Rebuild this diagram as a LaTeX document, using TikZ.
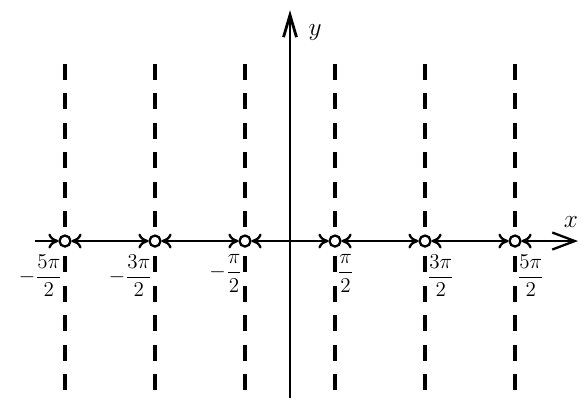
\documentclass[tikz,border=0pt]{standalone}
\usepackage{amsmath}
\usetikzlibrary{arrows.meta}

\begin{document}
\begin{tikzpicture}[
    x=0.9cm, y=0.9cm,
    >={To[length=0.2cm,width=0.3cm]},
    axis/.style={line width=1.6pt},
    seg/.style={line width=1.3pt, <->},
    asym/.style={line width=2pt, dash pattern=on 0.32cm off 0.27cm},
    hole/.style={circle, draw, fill=white, line width=1.3pt, minimum size=0.22cm, inner sep=0pt},
    lbl/.style={font=\large, inner sep=0pt},
  ]
    \useasboundingbox (-6.444,-3.556) rectangle (6.533,5.356);

    % ===== vertical asymptotes x = k pi/2 =====
    \foreach \k in {-5,-3,...,5}{
      \draw[asym] (\k, 0.311) -- (\k, 3.956);
      \draw[asym] (\k, -0.333) -- (\k, -3.311);
    }

    % ===== y axis =====
    \coordinate (ybot) at (0,-3.49);
    \coordinate (ytop) at (0,5.13);
    \draw[axis, -{Straight Barb[length=0.44cm,width=0.26cm]}] (ybot) -- (ytop);
    \node[font=\Large] (ylbl) at (0.556, 4.644) {$y$};

    % ===== holes on the x axis =====
    \foreach \i in {0,...,5}{
      \pgfmathsetmacro{\cx}{2*\i-5}
      \node[hole] (c\i) at (\cx, 0) {};
    }

    % ===== x axis, pieces between the holes =====
    \coordinate (xl) at (-5.667, 0);
    \coordinate (xr) at (6.4, 0);
    \draw[line width=1.3pt, ->] (xl) -- (c0);
    \foreach \i [evaluate=\i as \j using int(\i+1)] in {0,...,4}{
      \draw[seg] (c\i) -- (c\j);
    }
    \draw[line width=1.3pt, <-{Straight Barb[length=0.45cm,width=0.34cm]}] (c5) -- (xr);
    \node[font=\Large] (xlbl) at (6.244, 0.422) {$x$};

    % ===== tick labels =====
    \node[lbl, anchor=north east] (l0) at (-5.05, -0.29) {$-\dfrac{5\pi}{2}$};
    \node[lbl, anchor=north east] (l1) at (-3.05, -0.29) {$-\dfrac{3\pi}{2}$};
    \node[lbl, anchor=north east] (l2) at (-1.05, -0.29) {$-\dfrac{\pi}{2}$};
    \node[lbl, anchor=north west] (l3) at (1.04, -0.29) {$\dfrac{\pi}{2}$};
    \node[lbl, anchor=north west] (l4) at (3.04, -0.29) {$\dfrac{3\pi}{2}$};
    \node[lbl, anchor=north west] (l5) at (5.04, -0.29) {$\dfrac{5\pi}{2}$};

  \end{tikzpicture}
\end{document}
